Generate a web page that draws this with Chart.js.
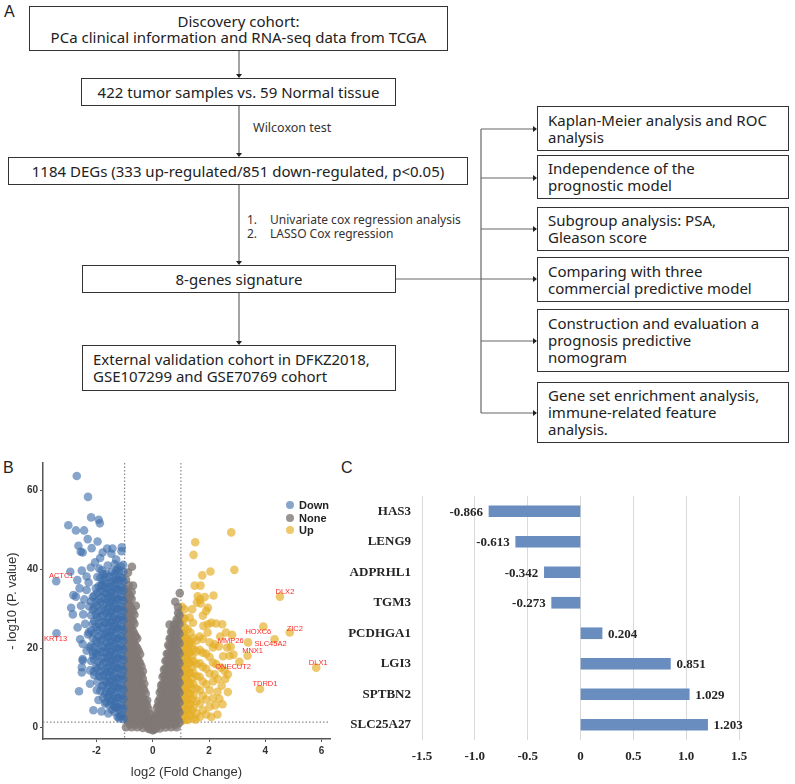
<!DOCTYPE html>
<html>
<head>
<meta charset="utf-8">
<script src="https://cdn.jsdelivr.net/npm/chart.js@4.4.0/dist/chart.umd.min.js"></script>
<style>
  body { margin: 0; width: 795px; height: 784px; position: relative; background: #fff; overflow: hidden;
         font-family: "Noto Sans", "Open Sans", sans-serif; color: #222; }
  .box { position: absolute; box-sizing: border-box; border: 1.5px solid #333; font-size: 15px; line-height: 17px;
         display: flex; flex-direction: column; justify-content: center; white-space: nowrap; }
  .c { align-items: center; text-align: center; }
  .l { padding-left: 10px; }
  .note { position: absolute; font-size: 12px; line-height: 14px; color: #333; white-space: nowrap; }
  .note b { display: inline-block; width: 23px; font-weight: normal; }
  .panel { position: absolute; font-family: "Liberation Sans", Arial, sans-serif; font-size: 16px; color: #222; }
  #flow { position: absolute; left: 0; top: 0; }
  #volcano-wrap { position: absolute; left: 0; top: 455px; width: 335px; height: 329px; }
  #bar-wrap { position: absolute; left: 335px; top: 470px; width: 460px; height: 314px; }
  #volcano-legend { position: absolute; left: 286px; top: 499px; }
  #volcano-legend ul { list-style: none; margin: 0; padding: 0; }
  #volcano-legend li { display: flex; align-items: center; height: 12.6px;
                       font: bold 11px "Liberation Sans", Arial, sans-serif; color: #222; }
</style>
</head>
<body>

<!-- A: study flow -->
<div class="panel" style="left:4px;top:3px;">A</div>
<svg id="flow" width="795" height="460">
  <g stroke="#666" stroke-width="1.2" fill="none">
    <line x1="239" y1="51" x2="239" y2="75"/>
    <line x1="239" y1="106" x2="239" y2="154"/>
    <line x1="239" y1="185" x2="239" y2="262"/>
    <line x1="239" y1="293" x2="239" y2="342"/>
    <line x1="396" y1="279" x2="534" y2="279"/>
    <line x1="481" y1="129" x2="481" y2="413"/>
    <line x1="481" y1="129" x2="534" y2="129"/>
    <line x1="481" y1="178" x2="534" y2="178"/>
    <line x1="481" y1="229" x2="534" y2="229"/>
    <line x1="481" y1="341" x2="534" y2="341"/>
    <line x1="481" y1="413" x2="534" y2="413"/>
  </g>
  <g fill="#222">
    <polygon points="236,74 242,74 239,78"/>
    <polygon points="236,153 242,153 239,157"/>
    <polygon points="236,261 242,261 239,265"/>
    <polygon points="236,341 242,341 239,345"/>
    <polygon points="533,126 533,132 537,129"/>
    <polygon points="533,175 533,181 537,178"/>
    <polygon points="533,226 533,232 537,229"/>
    <polygon points="533,276 533,282 537,279"/>
    <polygon points="533,338 533,344 537,341"/>
    <polygon points="533,410 533,416 537,413"/>
  </g>
</svg>

<div class="box c" style="left:29px;top:6px;width:419px;height:45px;line-height:16px;">
  <div>Discovery cohort:</div><div>PCa clinical information and RNA-seq data from TCGA</div>
</div>
<div class="box c" style="left:81px;top:78px;width:315px;height:28px;">422 tumor samples vs. 59 Normal tissue</div>
<div class="note" style="left:253px;top:121px;font-size:12.5px;">Wilcoxon test</div>
<div class="box c" style="left:8px;top:157px;width:460px;height:28px;">1184 DEGs (333 up-regulated/851 down-regulated, p&lt;0.05)</div>
<div class="note" style="left:247px;top:213px;"><b>1.</b>Univariate cox regression analysis<br><b>2.</b>LASSO Cox regression</div>
<div class="box c" style="left:82px;top:265px;width:314px;height:28px;">8-genes signature</div>
<div class="box l" style="left:82px;top:345px;width:314px;height:46px;">
  <div>External validation cohort in DFKZ2018,</div><div>GSE107299 and GSE70769 cohort</div>
</div>

<div class="box l" style="left:537px;top:106px;width:252px;height:45px;"><div>Kaplan-Meier analysis and ROC</div><div>analysis</div></div>
<div class="box l" style="left:537px;top:155px;width:252px;height:44px;"><div>Independence of the</div><div>prognostic model</div></div>
<div class="box l" style="left:537px;top:207px;width:252px;height:44px;"><div>Subgroup analysis: PSA,</div><div>Gleason score</div></div>
<div class="box l" style="left:537px;top:257px;width:252px;height:45px;"><div>Comparing with three</div><div>commercial predictive model</div></div>
<div class="box l" style="left:537px;top:309px;width:252px;height:63px;"><div>Construction and evaluation a</div><div>prognosis predictive</div><div>nomogram</div></div>
<div class="box l" style="left:537px;top:382px;width:252px;height:61px;"><div>Gene set enrichment analysis,</div><div>immune-related feature</div><div>analysis.</div></div>

<!-- B: volcano plot -->
<div class="panel" style="left:3px;top:459px;">B</div>
<div id="volcano-wrap"><canvas id="volcano"></canvas></div>
<div id="volcano-legend"><ul></ul></div>

<!-- C: coefficients -->
<div class="panel" style="left:341px;top:459px;">C</div>
<div id="bar-wrap"><canvas id="coef"></canvas></div>

<script>
// Volcano plot: [log2 FC, -log10 p] for the scattered genes,
// and [log2 FC, [-log10 p, ...]] strips for the crowded parts of the cloud
const downPoints = [
  [-2.70,63.7],[-2.30,58.4],[-2.19,53.2],[-1.92,52.6],[-1.88,51.7],[-3.00,51.2],[-2.73,49.9],[-2.44,49.9],
  [-2.31,47.7],[-1.96,47.1],[-2.64,46.0],[-2.56,44.5],[-2.49,44.3],[-2.17,45.4],[-1.78,44.3],[-1.62,45.3],
  [-1.43,45.3],[-1.10,45.6],[-1.11,44.6],[-1.87,42.9],[-1.47,44.0],[-1.05,41.2],[-2.93,39.4],[-3.43,37.0],
  [-2.52,39.7],[-2.68,37.3],[-2.82,33.5],[-2.73,33.1],[-2.43,32.4],[-2.90,30.3],[-2.84,28.6],[-3.42,23.8],
  [-2.62,9.1],[-2.11,4.3],[-1.82,4.0],[-2.52,15.2],[-2.52,13.9],[-2.49,17.3],[-2.47,28.6],[-2.67,25.3],
  [-2.58,22.3],[-2.49,21.1],[-2.35,19.4],[-2.49,16.9],[-2.23,14.4],[-2.23,11.0],[-1.99,9.4],[-1.93,6.9],
  [-1.70,6.0],[-1.58,3.5],[-1.35,5.1],[-1.17,2.8],[-2.20,40.5],[-2.05,41.8],[-1.90,40.2],[-1.75,38.8],
  [-2.35,38.2],[-1.60,41.0],[-1.30,42.5],[-2.60,35.2],[-2.35,34.8],[-2.55,30.8],[-2.40,26.2],[-2.30,23.5],
  [-2.28,36.7],[-2.26,30.6],[-2.24,20.2],[-2.27,24.1],[-2.12,18.2],[-2.09,14.1],[-1.97,38.1],[-1.82,36.1],
];
const downStrips = [
  [-1.04, [2.0,4.6,7.1,9.5,12.1,14.4,17.0,19.6,22.0,24.5,27.1,29.4,32.0,34.6,37.0,39.4]],
  [-1.09, [3.0,5.4,8.0,10.4,13.0,15.4,18.0,20.4,23.0,25.4,28.0,30.4,33.0,35.4,37.8]],
  [-1.14, [3.3,5.8,8.2,10.8,13.3,15.7,18.3,20.8,23.2,25.8,28.2,30.7,33.3,35.8,38.1,40.8]],
  [-1.19, [2.2,4.8,7.3,9.8,12.3,14.8,17.3,19.8,22.3,24.8,27.3,29.8,32.3,34.8,37.3,39.6]],
  [-1.25, [2.6,5.1,7.6,10.2,12.6,15.1,17.7,20.1,22.6,25.2,27.6,30.1,32.7,35.1,37.6,40.2]],
  [-1.30, [4.9,7.2,9.9,12.2,14.9,17.2,19.9,22.2,24.9,27.2,29.9,32.2,34.9,37.2,39.6]],
  [-1.35, [3.8,6.4,8.9,11.3,13.9,16.4,18.8,21.4,23.9,26.3,28.9,31.4,33.8,36.4,38.9,41.4]],
  [-1.40, [5.6,8.0,10.6,13.0,15.6,18.0,20.6,23.0,25.6,28.0,30.6,33.0,35.6,38.0]],
  [-1.45, [4.4,7.0,9.5,11.9,14.5,17.0,19.4,22.0,24.5,26.9,29.5,32.0,34.4,37.0,39.5]],
  [-1.50, [6.6,9.0,11.6,14.0,16.6,19.0,21.6,24.0,26.6,29.0,31.6,34.0,36.6]],
  [-1.55, [5.6,8.2,10.7,13.1,15.7,18.2,20.6,23.2,25.7,28.1,30.7,33.2,35.6,38.2]],
  [-1.60, [7.6,10.0,12.6,15.0,17.6,20.0,22.6,25.0,27.6,30.0,32.6,35.0]],
  [-1.65, [6.3,9.0,11.4,14.0,16.5,18.9,21.5,24.0,26.4,29.0,31.5,33.9,36.5,38.9]],
  [-1.70, [8.4,11.8,14.6,17.6,20.4,23.4,26.6,29.6,32.6,35.4,38.0]],
  [-1.76, [7.5,10.6,13.2,16.3,19.1,22.4,25.0,28.2,31.1,34.3,37.2]],
  [-1.81, [10.4,14.2,17.4,20.6,23.6,26.6,29.8,33.0,36.0,39.8]],
  [-1.86, [9.2,12.8,15.6,19.0,21.9,25.3,28.1,31.6,34.5,37.9]],
  [-1.92, [13.0,16.6,19.8,23.0,26.2,29.4,32.4,35.8]],
  [-1.97, [11.5,14.9,18.2,21.4,24.6,27.9,30.8,34.1]],
  [-2.02, [15.2,18.8,22.0,25.4,28.6,31.8,35.2]],
  [-2.08, [13.2,17.1,20.3,23.8,26.9,30.3,33.4]],
  [-2.13, [19.0,22.6,26.2,29.8,33.0]],
  [-2.19, [16.8,20.7,24.5,28.4,31.9]],
];

const nonePoints = [
  [-0.74,40.7],[-0.88,39.2],[-0.70,35.9],[-0.60,30.8],[0.96,34.0],[0.80,31.8],[0.90,30.4],[0.60,26.0],
];
const noneStrips = [
  [-0.95, [0.0,2.5,5.1,7.6,10.0,12.6,15.1,17.5,20.1,22.6,25.0,27.6,30.1,32.5,35.0,37.4]],
  [-0.90, [1.9,4.4,6.9,9.4,11.9,14.4,16.9,19.4,21.9,24.4,26.9,29.4,31.9,34.2]],
  [-0.85, [1.2,3.8,6.3,8.8,11.3,13.8,16.3,18.8,21.3,23.8,26.3,28.8,31.3,33.8,36.0]],
  [-0.80, [0.6,3.1,5.6,8.1,10.6,13.1,15.6,18.1,20.6,23.1,25.6,28.1,30.6,33.0]],
  [-0.75, [0.0,2.5,5.0,7.5,10.0,12.5,15.0,17.5,20.0,22.5,25.0,27.5,30.0,32.5,34.3]],
  [-0.70, [1.9,4.4,6.9,9.4,11.9,14.4,16.9,19.4,21.9,24.4,26.9,29.3]],
  [-0.65, [1.2,3.7,6.2,8.7,11.2,13.7,16.2,18.7,21.2,23.7,26.2,28.5]],
  [-0.60, [0.6,3.1,5.6,8.1,10.6,13.1,15.6,18.1,20.6,23.0]],
  [-0.55, [0.0,2.5,5.0,7.5,10.0,12.5,15.0,17.5,20.0,22.5]],
  [-0.50, [1.9,4.4,6.9,9.4,11.9,14.4,16.9,19.3]],
  [-0.45, [1.2,3.7,6.2,8.7,11.2,13.7,16.2,18.5]],
  [-0.40, [0.6,3.1,5.6,8.1,10.6,13.1,15.4]],
  [-0.35, [-0.2,2.3,4.8,7.3,9.8,12.3,14.2]],
  [-0.30, [1.9,4.4,6.9,9.4,11.0]],
  [-0.25, [1.0,3.5,6.0,8.5]],
  [-0.20, [0.4,2.9,5.4,6.8]],
  [-0.15, [-0.4,2.0,4.5]],
  [-0.10, [-0.5,1.5,3.3]],
  [-0.05, [0.6,2.2]],
  [0.00, [-0.8,0.8]],
  [0.05, [-0.6,1.8]],
  [0.10, [-0.4,1.5,3.3]],
  [0.15, [0.5,3.0,5.0]],
  [0.20, [0.4,2.9,5.4,6.5]],
  [0.25, [-0.3,2.2,4.7,7.2,8.8]],
  [0.30, [1.9,4.4,6.9,9.4,10.6]],
  [0.35, [1.0,3.5,6.0,8.5,11.0,12.8]],
  [0.40, [0.6,3.1,5.6,8.1,10.6,13.1,14.6]],
  [0.45, [-0.1,2.4,4.9,7.4,9.9,12.4,14.9,16.8]],
  [0.50, [1.9,4.4,6.9,9.4,11.9,14.4,16.9,18.6]],
  [0.55, [1.2,3.7,6.2,8.7,11.2,13.7,16.2,18.7,20.8]],
  [0.60, [0.6,3.1,5.6,8.1,10.6,13.1,15.6,18.1,20.6,22.5]],
  [0.65, [0.0,2.5,5.0,7.5,10.0,12.5,15.0,17.5,20.0,22.5,24.2]],
  [0.70, [1.9,4.4,6.9,9.4,11.9,14.4,16.9,19.4,21.9,24.4]],
  [0.75, [1.2,3.7,6.2,8.7,11.2,13.7,16.2,18.7,21.2,23.7,26.0]],
  [0.80, [0.6,3.1,5.6,8.1,10.6,13.1,15.6,18.1,20.6,23.1,25.6]],
  [0.85, [0.0,2.5,5.0,7.5,10.0,12.5,15.0,17.5,20.0,22.5,25.0,27.3]],
  [0.90, [1.9,4.4,6.9,9.4,11.9,14.4,16.9,19.4,21.9,24.4,26.9,29.0]],
  [0.95, [1.2,3.7,6.2,8.7,11.2,13.7,16.2,18.7,21.2,23.7,26.2,28.4]],
];

const upPoints = [
  [2.79,49.4],[1.51,46.9],[1.45,43.7],[2.90,39.9],[2.05,39.5],[1.76,38.5],[1.49,35.9],[1.70,35.9],
  [2.16,33.4],[1.60,33.2],[1.68,32.4],[1.57,31.6],[1.70,31.4],[1.96,30.3],[4.52,33.1],[3.93,25.5],
  [4.87,24.0],[4.33,22.3],[3.39,21.5],[2.82,23.4],[2.77,20.4],[3.37,18.1],[3.08,16.6],[5.81,15.1],
  [2.25,16.0],[3.81,9.7],[2.87,18.4],[2.08,26.5],[1.96,26.1],[1.80,25.7],[2.47,26.1],[1.07,27.8],
  [1.31,27.8],[1.43,26.5],[1.40,29.9],[1.13,29.9],[1.90,29.5],[1.78,28.3],[2.25,26.3],[2.64,20.2],
  [2.73,18.1],[2.55,14.3],[2.67,13.4],[2.58,12.2],[2.67,8.9],[2.37,7.2],[2.08,2.6],[1.52,1.9],
  [2.43,15.1],[2.20,13.4],[2.31,12.2],[2.45,10.5],[2.30,9.0],[2.22,5.5],[2.48,5.8],[2.50,18.0],
  [2.35,20.5],[2.40,23.0],[2.60,24.0],[1.04,30.5],[1.85,33.0],[2.30,3.2],[1.95,24.0],[2.20,21.0],
];
const upStrips = [
  [1.04, [1.6,4.1,6.6,9.1,11.6,14.1,16.6,19.1,21.6,24.1,26.4]],
  [1.09, [3.0,5.6,8.2,10.8,13.4,16.0,18.6,21.2,23.6]],
  [1.14, [2.8,5.3,7.8,10.3,12.8,15.3,17.8,20.3,22.8,25.3,27.5]],
  [1.19, [1.9,4.5,7.1,9.7,12.3,14.9,17.5,20.1,22.5]],
  [1.24, [1.8,4.4,6.9,9.5,12.0,14.6,17.1,19.7,22.2,24.8]],
  [1.29, [3.4,6.0,8.6,11.2,13.8,16.3,18.8,21.0]],
  [1.34, [3.0,5.8,8.4,11.1,13.7,16.4,19.0,21.7,24.0]],
  [1.40, [4.2,7.0,9.8,12.5,15.3,18.0,20.6]],
  [1.45, [2.2,5.0,8.0,10.9,13.8,16.8,19.7,22.6]],
  [1.56, [3.5,6.6,9.8,12.9,16.0,19.2,22.0]],
  [1.67, [2.6,6.0,9.4,12.8,16.2,19.6,23.0]],
  [1.78, [4.3,8.0,11.6,15.3,18.9,22.4]],
  [1.90, [3.2,7.0,10.9,14.8,18.6]],
  [2.02, [5.2,9.4,13.6,17.8,21.5]],
  [2.14, [7.3,11.6,16.4,20.2]],
];

// Labelled genes
const geneNames = ['ACTC1', 'KRT13', 'DLX2', 'ZIC2', 'HOXC6', 'SLC45A2', 'MMP26', 'MNX1', 'ONECUT2', 'TDRD1', 'DLX1'];
const geneFC = [-3.43, -3.42, 4.52, 4.87, 3.93, 4.33, 2.77, 3.37, 2.25, 3.81, 5.81];
const geneLogP = [37.0, 23.8, 33.1, 24.0, 25.5, 22.3, 20.4, 18.1, 16.0, 9.7, 15.1];
// text offset from its point, in px
const geneLabelShift = [[5, -5], [-1, 6], [5, -5], [5, -4], [-5, 5], [-4, 5], [0, -6], [5, -5], [17, 3], [5, -5], [2, -5]];

const fcCut = 1;
const pCut = 1.3; // -log10(0.05)

// Cox coefficients
const coefGenes = ['HAS3', 'LENG9', 'ADPRHL1', 'TGM3', 'PCDHGA1', 'LGI3', 'SPTBN2', 'SLC25A27'];
const coefValues = [-0.866, -0.613, -0.342, -0.273, 0.204, 0.851, 1.029, 1.203];

Chart.defaults.animation = false;
Chart.defaults.font.family = '"Liberation Sans", Arial, sans-serif';

const toXY = (pts, strips) => pts.map(p => ({ x: p[0], y: p[1] }))
  .concat(...strips.map(s => s[1].map(y => ({ x: s[0], y }))));

// dotted cut-off lines
const cutLines = {
  id: 'cutLines',
  beforeDatasetsDraw(c) {
    const { ctx, chartArea: a, scales: { x, y } } = c;
    ctx.save();
    ctx.strokeStyle = '#8a8a8a';
    ctx.lineWidth = 1.2;
    ctx.setLineDash([1.5, 2]);
    [-fcCut, fcCut].forEach(v => {
      const px = x.getPixelForValue(v);
      ctx.beginPath(); ctx.moveTo(px, a.top); ctx.lineTo(px, a.bottom); ctx.stroke();
    });
    const py = y.getPixelForValue(pCut);
    ctx.beginPath(); ctx.moveTo(a.left, py); ctx.lineTo(a.right, py); ctx.stroke();
    ctx.restore();
  },
};

// red gene names
const geneLabels = {
  id: 'geneLabels',
  afterDatasetsDraw(c) {
    const { ctx, scales: { x, y } } = c;
    ctx.save();
    ctx.font = '7.5px "Liberation Sans", Arial, sans-serif';
    ctx.fillStyle = '#ff2b2b';
    ctx.textAlign = 'center';
    ctx.textBaseline = 'middle';
    geneNames.forEach((g, i) => {
      const px = x.getPixelForValue(geneFC[i]) + geneLabelShift[i][0];
      const py = y.getPixelForValue(geneLogP[i]) + geneLabelShift[i][1];
      ctx.fillText(g, px, py);
    });
    ctx.restore();
  },
};

const volcano = new Chart(document.getElementById('volcano'), {
  type: 'scatter',
  data: {
    datasets: [
      { label: 'Down', data: toXY(downPoints, downStrips), backgroundColor: 'rgba(62,110,170,0.62)' },
      { label: 'None', data: toXY(nonePoints, noneStrips), backgroundColor: 'rgba(128,120,118,0.8)' },
      { label: 'Up', data: toXY(upPoints, upStrips), backgroundColor: 'rgba(228,174,40,0.68)' },
    ],
  },
  options: {
    responsive: true,
    maintainAspectRatio: false,
    layout: { padding: { top: 7, right: 5, left: 0, bottom: 0 } },
    elements: { point: { radius: 4.3, borderWidth: 0, hoverRadius: 4.3 } },
    scales: {
      x: {
        type: 'linear',
        min: -3.9,
        max: 6.3,
        afterFit(s) { s.height = 45; },
        ticks: { stepSize: 2, includeBounds: false, padding: 3, color: '#333', font: { size: 10, weight: 'bold' } },
        grid: { drawOnChartArea: false, tickLength: 3, color: '#555' },
        border: { color: '#555', width: 1.5 },
        title: { display: true, text: 'log2 (Fold Change)', color: '#333', font: { size: 13 }, padding: { top: 0, bottom: 4 } },
      },
      y: {
        min: -3,
        max: 67,
        afterFit(s) { s.width = 43; },
        ticks: { stepSize: 20, includeBounds: false, padding: 2, color: '#333', font: { size: 10, weight: 'bold' } },
        grid: { drawOnChartArea: false, tickLength: 3, color: '#555' },
        border: { color: '#555', width: 1.5 },
        title: { display: true, text: '- log10 (P. value)', color: '#333', font: { size: 13 }, padding: { top: 5, bottom: 0 } },
      },
    },
    plugins: {
      legend: { display: false },
      tooltip: { enabled: false },
      htmlLegend: { containerID: 'volcano-legend' },
    },
  },
  plugins: [cutLines, geneLabels, {
    id: 'htmlLegend',
    afterUpdate(c, args, options) {
      const ul = document.getElementById(options.containerID).querySelector('ul');
      if (!ul) return;
      while (ul.firstChild) ul.firstChild.remove();
      const items = c.options.plugins.legend.labels.generateLabels(c);
      items.forEach(item => {
        const li = document.createElement('li');
        const dot = document.createElement('span');
        dot.style.display = 'inline-block';
        dot.style.width = '8px';
        dot.style.height = '8px';
        dot.style.borderRadius = '50%';
        dot.style.marginRight = '5px';
        dot.style.backgroundColor = item.fillStyle;
        li.appendChild(dot);
        li.appendChild(document.createTextNode(item.text));
        ul.appendChild(li);
      });
    },
  }],
});

// value labels at bar ends
const barValues = {
  id: 'barValues',
  afterDatasetsDraw(c) {
    const { ctx } = c;
    const meta = c.getDatasetMeta(0);
    ctx.save();
    ctx.font = 'bold 13px "Liberation Serif", "Times New Roman", serif';
    ctx.fillStyle = '#262626';
    ctx.textBaseline = 'middle';
    meta.data.forEach((bar, i) => {
      const v = c.data.datasets[0].data[i];
      ctx.textAlign = v < 0 ? 'right' : 'left';
      ctx.fillText(v.toFixed(3), bar.x + (v < 0 ? -6 : 6), bar.y + 1);
    });
    ctx.restore();
  },
};

const serifBold = { family: '"Liberation Serif", "Times New Roman", serif', size: 13, weight: 'bold' };

new Chart(document.getElementById('coef'), {
  type: 'bar',
  data: {
    labels: coefGenes,
    datasets: [{ data: coefValues, backgroundColor: '#6a8dc0', barThickness: 11 }],
  },
  options: {
    indexAxis: 'y',
    responsive: true,
    maintainAspectRatio: false,
    layout: { padding: { top: 26, right: 56, left: 0, bottom: 0 } },
    scales: {
      x: {
        min: -1.5,
        max: 1.5,
        afterFit(s) { s.height = 44; },
        ticks: { stepSize: 0.5, padding: 9, color: '#262626', font: serifBold },
        grid: { color: '#d9d9d9', drawTicks: false },
        border: { display: false },
      },
      y: {
        afterFit(s) { s.width = 87; },
        ticks: { padding: 11, color: '#262626', font: serifBold },
        grid: { display: false, drawTicks: false },
        border: { display: false },
      },
    },
    plugins: {
      legend: { display: false },
      tooltip: { enabled: false },
    },
  },
  plugins: [barValues],
});
</script>
</body>
</html>
